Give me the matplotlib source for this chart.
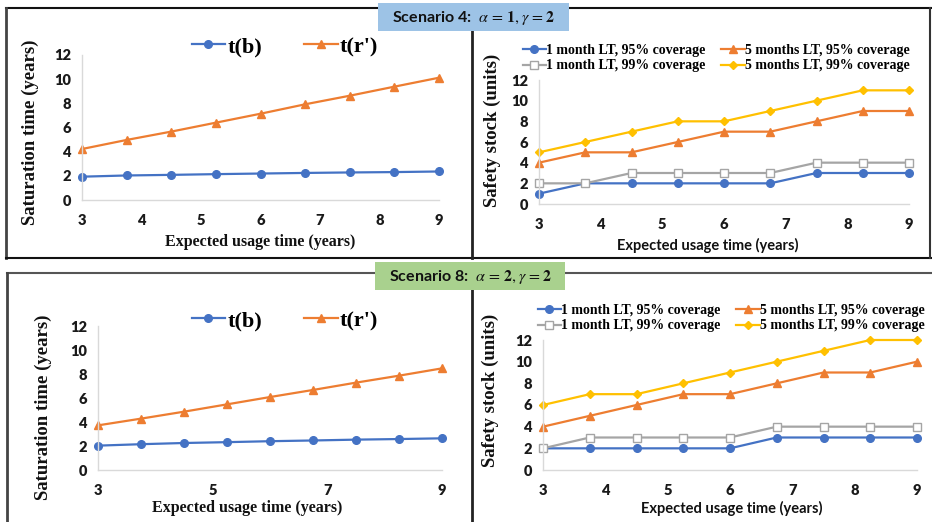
"""
plot.py

Saturation time and safety stock vs expected usage time,
scenarios 4 and 8, drawn as one 2x2 figure -> out.png
"""

import matplotlib.pyplot as plt
from matplotlib.lines import Line2D
from matplotlib.patches import Rectangle

plt.rcParams["mathtext.fontset"] = "stix"

W, H = 932, 522

# expected usage time (years), nine points from 3 to 9
usage = [3, 3.75, 4.5, 5.25, 6, 6.75, 7.5, 8.25, 9]

# scenario 4 (alpha = 1, gamma = 2)
s4_tb = [1.93, 2.03, 2.08, 2.14, 2.19, 2.24, 2.28, 2.31, 2.36]
s4_tr = [4.22, 4.97, 5.66, 6.40, 7.14, 7.92, 8.63, 9.38, 10.12]
s4_1m95 = [1, 2, 2, 2, 2, 2, 3, 3, 3]
s4_5m95 = [4, 5, 5, 6, 7, 7, 8, 9, 9]
s4_1m99 = [2, 2, 3, 3, 3, 3, 4, 4, 4]
s4_5m99 = [5, 6, 7, 8, 8, 9, 10, 11, 11]

# scenario 8 (alpha = 2, gamma = 2)
s8_tb = [2.03, 2.15, 2.25, 2.32, 2.40, 2.46, 2.53, 2.58, 2.64]
s8_tr = [3.72, 4.28, 4.86, 5.47, 6.08, 6.67, 7.28, 7.86, 8.47]
s8_1m95 = [2, 2, 2, 2, 2, 3, 3, 3, 3]
s8_5m95 = [4, 5, 6, 7, 7, 8, 9, 9, 10]
s8_1m99 = [2, 3, 3, 3, 3, 4, 4, 4, 4]
s8_5m99 = [6, 7, 7, 8, 9, 10, 11, 12, 12]

stock_labels = ["1 month LT, 95% coverage", "5 months LT, 95% coverage",
                "1 month LT, 99% coverage", "5 months LT, 99% coverage"]

BLUE, ORANGE, GREY, GOLD = "#4472C4", "#ED7D31", "#A5A5A5", "#FFC000"
SANS = "Lato"
SERIF = "Liberation Serif"


def px_axes(fig, left, right, top, bottom):
    return fig.add_axes([left / W, 1 - bottom / H, (right - left) / W, (bottom - top) / H])


def style_axes(ax, xticks):
    ax.set_xlim(3, 9)
    ax.set_ylim(0, 12)
    ax.set_yticks(range(0, 13, 2))
    ax.set_xticks(xticks)
    for side in ["top", "right"]:
        ax.spines[side].set_visible(False)
    for side in ["left", "bottom"]:
        ax.spines[side].set_color("#D9D9D9")
        ax.spines[side].set_linewidth(1.0)
    ax.tick_params(length=0, labelsize=10.5)
    ax.tick_params(axis="x", pad=10)
    ax.tick_params(axis="y", pad=8)
    for lab in ax.get_xticklabels() + ax.get_yticklabels():
        lab.set_fontfamily(SANS)
        lab.set_fontweight("heavy")
        lab.set_color("#1a1a1a")
    ax.patch.set_alpha(0)


def saturation_panel(fig, box, tb, tr, xticks, legend_xy):
    ax = px_axes(fig, *box)
    ax.plot(usage, tb, color=BLUE, lw=1.6, marker="o", ms=5.5, clip_on=False, label="t(b)")
    ax.plot(usage, tr, color=ORANGE, lw=1.6, marker="^", ms=5.5, clip_on=False, label="t(r')")
    style_axes(ax, xticks)
    fig.legend(handles=ax.get_lines(), loc="center", bbox_to_anchor=(legend_xy[0] / W, 1 - legend_xy[1] / H),
               ncol=2, frameon=False, handlelength=1.5, handletextpad=0.1, columnspacing=1.9,
               prop={"family": SERIF, "weight": "bold", "size": 16})
    return ax


def stock_panel(fig, box, series, legend_xy):
    ax = px_axes(fig, *box)
    styles = [(BLUE, "o", BLUE), (ORANGE, "^", ORANGE), (GREY, "s", "white"), (GOLD, "D", GOLD)]
    for vals, lab, (c, m, fc) in zip(series, stock_labels, styles):
        ms = 4.5 if m == "D" else 5.5
        ax.plot(usage, vals, color=c, lw=1.6, marker=m, ms=ms, mfc=fc, mec=c,
                clip_on=False, label=lab)
    style_axes(ax, range(3, 10))
    # legend rows go 1m95 | 5m95 then 1m99 | 5m99
    lines = ax.get_lines()
    order = [lines[0], lines[2], lines[1], lines[3]]
    fig.legend(handles=order, loc="center", bbox_to_anchor=(legend_xy[0] / W, 1 - legend_xy[1] / H),
               ncol=2, frameon=False, handlelength=1.7, handletextpad=0.0, columnspacing=1.1,
               labelspacing=0.2, prop={"family": SERIF, "weight": "bold", "size": 10})
    return ax


def fig_text(fig, x, y, s, **kw):
    fig.text(x / W, 1 - y / H, s, ha="center", va="center", **kw)


def fig_line(fig, x0, y0, x1, y1, color="#222222", lw=1.5):
    fig.add_artist(Line2D([x0 / W, x1 / W], [1 - y0 / H, 1 - y1 / H], color=color, lw=lw))


fig = plt.figure(figsize=(W / 100, H / 100), dpi=100)

# frames round the panels
fig_line(fig, 6, 8, 932, 8, color="#111111")
fig_line(fig, 6, 8, 6, 258, color="#444444", lw=2)
fig_line(fig, 6, 258, 932, 258, color="#111111")
fig_line(fig, 930, 8, 930, 258, color="#333333")
fig_line(fig, 472, 8, 472, 258, color="#222222", lw=2)
fig_line(fig, 7, 273, 932, 273, color="#555555")
fig_line(fig, 7, 273, 7, 522, color="#444444", lw=2)
fig_line(fig, 472, 273, 472, 522, color="#222222", lw=2)

# scenario banners
for (x0, y0, x1, y1, fc, label) in [
    (378, 3, 569, 31, "#9DC3E6", r"Scenario 4:  $\alpha\, =\, \mathbf{1}, \gamma\, =\mathbf{2}$"),
    (375, 262, 565, 290, "#A9D18E", r"Scenario 8:  $\alpha\, =\, \mathbf{2}, \gamma\, =\mathbf{2}$"),
]:
    fig.add_artist(Rectangle((x0 / W, 1 - y1 / H), (x1 - x0) / W, (y1 - y0) / H,
                             transform=fig.transFigure, facecolor=fc, edgecolor="none", zorder=3))
    fig_text(fig, (x0 + x1) / 2, (y0 + y1) / 2 + 1, label, family=SANS, weight="bold",
             size=11.5, color="#111111", zorder=4)

tl = saturation_panel(fig, (82, 439, 55, 200), s4_tb, s4_tr, range(3, 10), (285, 47))
bl = saturation_panel(fig, (98, 442, 326, 470), s8_tb, s8_tr, [3, 5, 7, 9], (285, 321))
tr = stock_panel(fig, (539, 909, 80, 204), [s4_1m95, s4_5m95, s4_1m99, s4_5m99], (716, 58))
br = stock_panel(fig, (543, 917, 340, 470), [s8_1m95, s8_5m95, s8_1m99, s8_5m99], (731, 318))

# axis titles
serif_lab = dict(family=SERIF, weight="bold", size=11.5, color="#111111")
serif_ylab = dict(family=SERIF, weight="bold", size=13.5, color="#111111", rotation=90)
sans_lab = dict(family=SANS, weight="bold", size=10.5, color="#111111")
fig_text(fig, 30, 132, "Saturation time (years)", **serif_ylab)
fig_text(fig, 260, 242, "Expected usage time (years)", **serif_lab)
fig_text(fig, 43, 407, "Saturation time (years)", **serif_ylab)
fig_text(fig, 247, 508, "Expected usage time (years)", **serif_lab)
fig_text(fig, 492, 130, "Safety stock (units)", **serif_ylab)
fig_text(fig, 708, 245, "Expected usage time (years)", **sans_lab)
fig_text(fig, 490, 390, "Safety stock (units)", **serif_ylab)
fig_text(fig, 732, 508, "Expected usage time (years)", **sans_lab)

fig.savefig("out.png", dpi=100)
